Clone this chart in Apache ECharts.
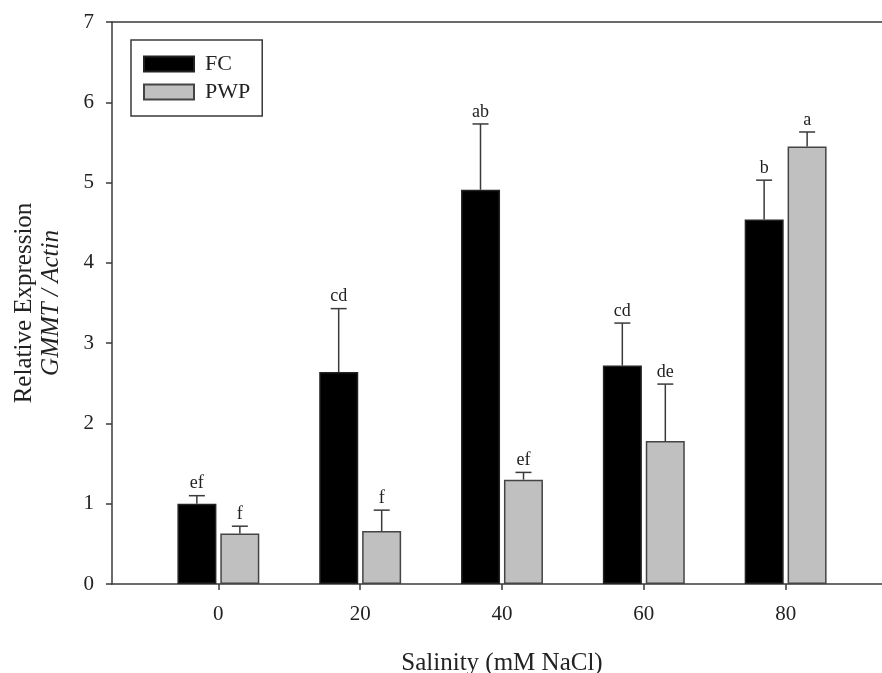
<!DOCTYPE html>
<html>
<head>
<meta charset="utf-8">
<script src="https://cdn.jsdelivr.net/npm/echarts@6/dist/echarts.min.js"></script>
<style>
  html, body { margin: 0; padding: 0; background: #fff; }
  #chart { width: 882px; height: 673px; }
</style>
</head>
<body>
<div id="chart"></div>
<script>
// salinity levels (mM NaCl)
const salinity = [0, 20, 40, 60, 80];
const fcMean = [1.00, 2.64, 4.91, 2.72, 4.54];
const fcErr = [0.10, 0.79, 0.82, 0.53, 0.49];
const fcLetters = ["ef", "cd", "ab", "cd", "b"];
const pwpMean = [0.63, 0.66, 1.30, 1.78, 5.45];
const pwpErr = [0.09, 0.26, 0.09, 0.71, 0.18];
const pwpLetters = ["f", "f", "ef", "de", "a"];

const font = "Liberation Serif";
const axisColor = "#3a3a3a";
const barW = 39;
const offset = 21.5;

var chartDom = document.getElementById("chart");
var mychart = echarts.init(chartDom);

function errorSeries(means, errs, letters, dx) {
  return {
    type: "custom",
    z: 5,
    data: salinity.map((s, i) => [s, means[i], errs[i]]),
    renderItem: function (params, api) {
      const x = api.value(0);
      const m = api.value(1);
      const e = api.value(2);
      const p0 = api.coord([x, m]);
      const p1 = api.coord([x, m + e]);
      const cx = p0[0] + dx;
      const style = { stroke: axisColor, lineWidth: 1.5 };
      return {
        type: "group",
        children: [
          { type: "line", shape: { x1: cx, y1: p0[1], x2: cx, y2: p1[1] }, style: style },
          { type: "line", shape: { x1: cx - 8, y1: p1[1], x2: cx + 8, y2: p1[1] }, style: style },
          {
            type: "text",
            x: cx,
            y: p1[1] - 3,
            style: {
              text: letters[params.dataIndex],
              font: "18px '" + font + "'",
              fill: "#222",
              align: "center",
              verticalAlign: "bottom",
            },
          },
        ],
      };
    },
  };
}

var option = {
  animation: false,
  textStyle: { fontFamily: font },
  grid: {
    left: 112,
    right: -10,
    top: 22,
    bottom: 89,
    outerBoundsMode: "none",
    containLabel: false,
    show: false,
  },
  legend: {
    data: ["FC", "PWP"],
    orient: "vertical",
    left: 131,
    top: 40,
    itemWidth: 50,
    itemHeight: 15,
    itemGap: 6,
    padding: [13, 12, 13, 12],
    borderColor: axisColor,
    borderWidth: 1.5,
    icon: "rect",
    textStyle: { fontFamily: font, fontSize: 22, color: "#222", padding: [0, 0, 0, 6] },
  },
  xAxis: [
    {
      type: "value",
      min: -15,
      max: 95,
      name: "Salinity (mM NaCl)",
      nameLocation: "middle",
      nameGap: 67,
      nameTextStyle: { fontFamily: font, fontSize: 25, color: "#222" },
      axisLine: { show: true, onZero: false, lineStyle: { color: axisColor, width: 1.5 } },
      axisTick: { show: true, length: 6, customValues: salinity, lineStyle: { color: axisColor, width: 1.5 } },
      axisLabel: { customValues: salinity, fontFamily: font, fontSize: 21, color: "#222", margin: 20 },
      splitLine: { show: false },
    },
    {
      type: "value",
      position: "top",
      min: -15,
      max: 95,
      axisLine: { show: true, onZero: false, lineStyle: { color: axisColor, width: 1.5 } },
      axisTick: { show: false },
      axisLabel: { show: false },
      splitLine: { show: false },
    },
  ],
  yAxis: {
    type: "value",
    min: 0,
    max: 7,
    interval: 1,
    name: "{a|Relative Expression}\n{b|GMMT / Actin}",
    nameLocation: "middle",
    nameGap: 47,
    nameTextStyle: {
      rich: {
        a: { fontFamily: font, fontSize: 25, color: "#222", lineHeight: 27 },
        b: { fontFamily: font, fontSize: 25, fontStyle: "italic", color: "#222", lineHeight: 27 },
      },
    },
    axisLine: { show: true, onZero: false, lineStyle: { color: axisColor, width: 1.5 } },
    axisTick: { show: true, length: 6, lineStyle: { color: axisColor, width: 1.5 } },
    axisLabel: { fontFamily: font, fontSize: 21, color: "#222", margin: 18 },
    splitLine: { show: false },
  },
  series: [
    {
      name: "FC",
      type: "bar",
      barWidth: barW,
      barGap: "10%",
      data: salinity.map((s, i) => [s, fcMean[i]]),
      itemStyle: { color: "#000", borderColor: "#222", borderWidth: 1.5 },
    },
    {
      name: "PWP",
      type: "bar",
      barWidth: barW,
      barGap: "10%",
      data: salinity.map((s, i) => [s, pwpMean[i]]),
      itemStyle: { color: "#c0c0c0", borderColor: "#444", borderWidth: 1.5 },
    },
    errorSeries(fcMean, fcErr, fcLetters, -offset),
    errorSeries(pwpMean, pwpErr, pwpLetters, offset),
  ],
};

mychart.setOption(option);
</script>
</body>
</html>
